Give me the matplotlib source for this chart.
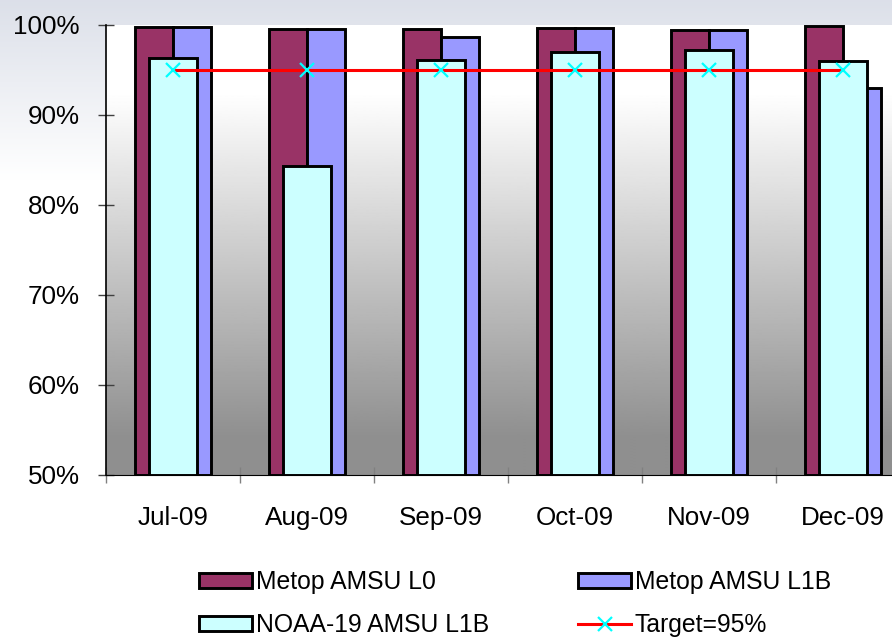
import numpy as np
import matplotlib
matplotlib.use("Agg")
import matplotlib.pyplot as plt
from matplotlib.patches import Patch
from matplotlib.lines import Line2D

plt.rcParams["font.family"] = ["Liberation Sans", "DejaVu Sans"]

# ── Data ─────────────────────────────────────────────────────────────────────
months = ["Jul-09", "Aug-09", "Sep-09", "Oct-09", "Nov-09", "Dec-09"]
metop_l0 = [99.8, 99.6, 99.6, 99.7, 99.4, 99.9]
metop_l1b = [99.8, 99.6, 98.7, 99.7, 99.5, 93.0]
noaa19_l1b = [96.3, 84.3, 96.1, 97.0, 97.2, 96.0]
target = [95, 95, 95, 95, 95, 95]
y_ticks = [50, 60, 70, 80, 90, 100]

C_L0 = "#993366"
C_L1B = "#9999FF"
C_NOAA = "#CCFFFF"
EDGE_LW = 2.1

W, H = 892, 637
fig = plt.figure(figsize=(W / 100, H / 100), dpi=100)

# Figure background: pale blue-grey fading to white
bg = fig.add_axes([0, 0, 1, 1], zorder=-10)
rows = np.linspace(0, 1, 256)
fade = np.clip(rows / 0.28, 0, 1)[:, None]
top = np.array([0.863, 0.878, 0.914])
grad = top + (1 - top) * fade
bg.imshow(np.repeat(grad[:, None, :], 2, axis=1), aspect="auto",
          extent=[0, 1, 0, 1], origin="upper")
bg.set_axis_off()

# Plot area (runs slightly past the right edge of the figure)
left, right, ytop, ybot = 106, 910, 25, 475
ax = fig.add_axes([left / W, 1 - ybot / H, (right - left) / W,
                   (ybot - ytop) / H])
ax.set_xlim(0, 6)
ax.set_ylim(50, 100)
ax.patch.set_alpha(0)

# white -> grey vertical gradient inside the plot area
g = np.linspace(0, 1, 300)
shade = np.interp(g, [0, 0.15, 0.92, 1.0], [1.0, 1.0, 0.56, 0.56])
ax.imshow(shade[:, None], cmap="gray", vmin=0, vmax=1, aspect="auto",
          extent=[0, 6, 50, 100], origin="upper", zorder=0)

x = np.arange(len(months)) + 0.5
bw = 0.284
nw = 0.36
base = 50
ax.bar(x - bw / 2, np.array(metop_l0) - base, bottom=base, width=bw,
       color=C_L0, edgecolor="black", linewidth=EDGE_LW, zorder=2)
ax.bar(x + bw / 2, np.array(metop_l1b) - base, bottom=base, width=bw,
       color=C_L1B, edgecolor="black", linewidth=EDGE_LW, zorder=2)
ax.bar(x, np.array(noaa19_l1b) - base, bottom=base, width=nw,
       color=C_NOAA, edgecolor="black", linewidth=EDGE_LW, zorder=3)
ax.plot(x, target, color="red", lw=2.2, marker="x", ms=10, mec="#00FFFF",
        mew=1.6, zorder=4)

# Axes styling
for s in ["top", "right"]:
    ax.spines[s].set_visible(False)
ax.spines["left"].set_linewidth(1.2)
ax.spines["bottom"].set_linewidth(0.8)
ax.spines["left"].set_zorder(5)

ax.set_yticks(y_ticks)
ax.set_yticklabels([f"{v}%" for v in y_ticks])
ax.tick_params(axis="y", direction="inout", length=11.5, width=1,
               color="#404040", pad=13, labelsize=18.7)

ax.set_xticks(np.arange(0, 7))
ax.set_xticklabels([])
ax.tick_params(axis="x", which="major", direction="inout", length=11,
               width=1, color="#808080")
ax.set_xticks(x, minor=True)
ax.set_xticklabels(months, minor=True)
ax.tick_params(axis="x", which="minor", length=0, pad=22, labelsize=18.7)

handles = [
    Patch(facecolor=C_L0, edgecolor="black", linewidth=EDGE_LW),
    Patch(facecolor=C_NOAA, edgecolor="black", linewidth=EDGE_LW),
    Patch(facecolor=C_L1B, edgecolor="black", linewidth=EDGE_LW),
    Line2D([], [], color="red", lw=2.2, marker="x", ms=10, mec="#00FFFF",
           mew=1.6),
]
labels = ["Metop AMSU L0", "NOAA-19 AMSU L1B", "Metop AMSU L1B",
          "Target=95%"]
fig.legend(handles, labels, ncol=2, loc="upper left",
           bbox_to_anchor=(199 / W, 1 - 570 / H), frameon=False,
           fontsize=17.8, handlelength=2.15, handleheight=0.55,
           handletextpad=0.15, columnspacing=3.6, labelspacing=0.78,
           borderpad=0, borderaxespad=0)

fig.savefig("out.png", dpi=100)
